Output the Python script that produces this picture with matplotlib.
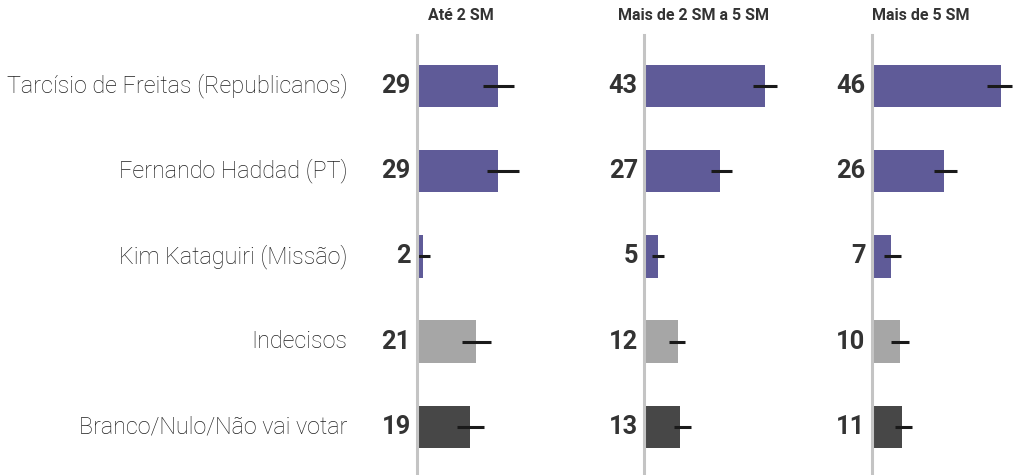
import matplotlib.pyplot as plt

# Dados (intenção de voto por faixa de renda)
candidatos = ['Tarcísio de Freitas (Republicanos)', 'Fernando Haddad (PT)',
              'Kim Kataguiri (Missão)', 'Indecisos', 'Branco/Nulo/Não vai votar']
faixas = ['Até 2 SM', 'Mais de 2 SM a 5 SM', 'Mais de 5 SM']

ate2 = [29, 29, 2, 21, 19]
de2a5 = [43, 27, 5, 12, 13]
mais5 = [46, 26, 7, 10, 11]

# margens de erro (mín, máx)
ate2_lo = [23.5, 24.9, 0.5, 16.0, 14.2]
ate2_hi = [34.6, 36.3, 4.6, 26.4, 24.0]
de2a5_lo = [38.7, 24.0, 3.0, 9.0, 10.7]
de2a5_hi = [47.3, 31.5, 7.2, 14.7, 16.7]
mais5_lo = [41.2, 22.1, 4.6, 7.1, 8.2]
mais5_hi = [50.2, 30.4, 10.4, 13.3, 14.5]

valores = [ate2, de2a5, mais5]
lows = [ate2_lo, de2a5_lo, mais5_lo]
highs = [ate2_hi, de2a5_hi, mais5_hi]

cores = ['#5f5b98', '#5f5b98', '#5f5b98', '#a6a6a6', '#474747']

W, H = 1013, 475
fig = plt.figure(figsize=(W / 100, H / 100), dpi=100)

eixo_x = [417, 644, 871.5]
px_por_unidade = 2.807
largura_px = 70 * px_por_unidade

for k in range(3):
    ax = fig.add_axes([eixo_x[k] / W, 0, largura_px / W, 440 / H])
    ys = list(range(len(candidatos)))
    ax.barh(ys, valores[k], height=0.5, color=cores)
    for i in ys:
        ax.plot([lows[k][i], highs[k][i]], [i, i], color='#1a1a1a', lw=2.2,
                solid_capstyle='butt', clip_on=False)
        ax.annotate(str(valores[k][i]), (0, i), xytext=(-4.5, 0),
                    textcoords='offset points', ha='right', va='center',
                    fontsize=18.3, fontweight='bold', family='Roboto',
                    color='#333333')
    ax.set_xlim(0, 70)
    ax.set_ylim(4.563, -0.596)
    for s in ['top', 'right', 'bottom']:
        ax.spines[s].set_visible(False)
    ax.spines['left'].set_color('#c4c4c4')
    ax.spines['left'].set_linewidth(2.2)
    ax.set_xticks([])
    ax.set_yticks([])
    ax.patch.set_alpha(0)

    centro = [461, 694, 921][k]
    fig.text(centro / W, 1 - 16 / H, faixas[k], ha='center', va='center',
             fontsize=11.5, fontweight='bold', family='Roboto', color='#333333')

    if k == 0:
        for i, nome in enumerate(candidatos):
            ax.annotate(nome, (0, i), xytext=(-50, 0), textcoords='offset points',
                        ha='right', va='center', fontsize=16.8, fontweight='light',
                        family='Roboto', color='#1f1f1f')

fig.savefig('out.png', dpi=100)
